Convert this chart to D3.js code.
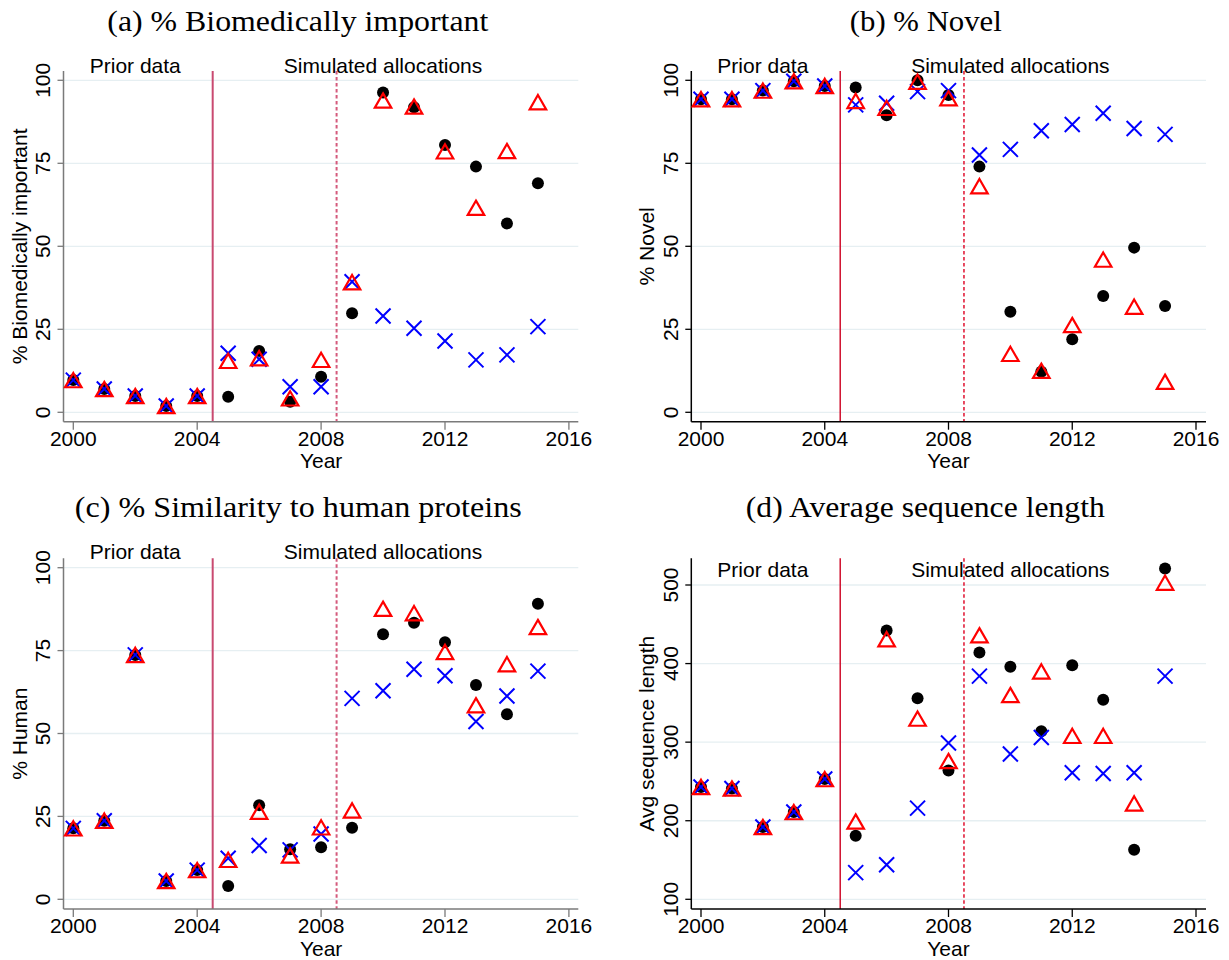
<!DOCTYPE html>
<html>
<head>
<meta charset="utf-8">
<script src="https://cdn.jsdelivr.net/npm/d3@7"></script>
<style>
  body { margin: 0; background: #fff; }
  svg { display: block; }
</style>
</head>
<body>
<svg id="chart" width="1229" height="960"></svg>
<script>
// ---- data ----
const years = [2000, 2001, 2002, 2003, 2004, 2005, 2006, 2007,
               2008, 2009, 2010, 2011, 2012, 2013, 2014, 2015];
const yearTicks = [2000, 2004, 2008, 2012, 2016];
const pctTicks = [0, 25, 50, 75, 100];
const lengthTicks = [100, 200, 300, 400, 500];
const priorEnd = 2004.5;
const simStart = 2008.5;
const periodLabels = ["Prior data", "Simulated allocations"];
const periodLabelYears = [2002, 2010];

// (a) % Biomedically important
const bioCircle   = [9.7, 7.0, 4.9, 1.9, 4.9, 4.7, 18.5, 3.2, 10.7, 29.8, 96.3, 91.9, 80.5, 74.0, 56.9, 69.0];
const bioTriangle = [9.7, 7.0, 4.9, 1.9, 4.9, 15.5, 16.3, 4.2, 15.8, 39.2, 93.9, 92.1, 78.6, 61.6, 78.7, 93.4];
const bioCross    = [9.7, 7.0, 4.9, 1.9, 4.9, 17.8, 16.0, 7.7, 7.7, 39.3, 29.0, 25.3, 21.5, 15.8, 17.3, 25.8];

// (b) % Novel
const novelCircle   = [94.3, 94.3, 96.9, 99.7, 98.3, 97.8, 89.5, 100.0, 95.6, 74.0, 30.3, 12.2, 22.0, 35.0, 49.6, 32.0];
const novelTriangle = [94.3, 94.3, 96.9, 99.7, 98.3, 93.8, 91.7, 99.6, 94.6, 68.1, 17.6, 12.5, 26.3, 46.0, 31.8, 9.2];
const novelCross    = [94.3, 94.3, 96.9, 99.7, 98.3, 92.6, 93.1, 96.6, 96.9, 77.5, 79.2, 84.8, 86.7, 90.1, 85.5, 83.7];

// (c) % Similarity to human proteins
const humanCircle   = [21.4, 23.7, 73.7, 5.5, 8.8, 4.0, 28.4, 15.1, 15.7, 21.6, 79.9, 83.4, 77.5, 64.6, 55.8, 89.1];
const humanTriangle = [21.4, 23.7, 73.7, 5.5, 8.8, 11.9, 26.4, 13.2, 21.7, 26.8, 87.6, 86.3, 74.6, 58.5, 70.9, 82.1];
const humanCross    = [21.4, 23.7, 73.7, 5.5, 8.8, 12.4, 16.2, 14.9, 19.7, 60.6, 62.9, 69.4, 67.4, 53.6, 61.3, 68.8];

// (d) Average sequence length
const lengthCircle   = [243, 241, 192, 211, 253, 181, 442, 356, 264, 414, 396, 314, 398, 354, 163, 521];
const lengthTriangle = [243, 241, 192, 211, 253, 199, 431, 330, 276, 436, 360, 390, 308, 308, 222, 503];
const lengthCross    = [243, 241, 192, 211, 253, 134, 144, 216, 299, 384, 285, 306, 261, 260, 261, 384];

// ---- panel layout ----
const panels = [
  { title: "(a) % Biomedically important", yTitle: "% Biomedically important",
    ticks: pctTicks, domain: [0, 100],
    circle: bioCircle, triangle: bioTriangle, cross: bioCross,
    layout: { x0: 73.3, x1: 568.9, left: 63.5, right: 578.3,
              y0: 412.3, y1: 80.3, top: 71, bottom: 421.7,
              titleX: 297.8, titleY: 31, titleW: 381, labelY: 102.3,
              axisColor: "#7a7a7a", refColor: "#c94a70", refWidth: 2, dashColor: "#d45a7c" } },
  { title: "(b) % Novel", yTitle: "% Novel",
    ticks: pctTicks, domain: [0, 100],
    circle: novelCircle, triangle: novelTriangle, cross: novelCross,
    layout: { x0: 701, x1: 1196, left: 691.3, right: 1206,
              y0: 412.3, y1: 80.3, top: 71, bottom: 421.7,
              titleX: 925.8, titleY: 31, titleW: 152, labelY: 102.3,
              axisColor: "#000", refColor: "#d0102e", refWidth: 1.5, dashColor: "#e0102e" } },
  { title: "(c) % Similarity to human proteins", yTitle: "% Human",
    ticks: pctTicks, domain: [0, 100],
    circle: humanCircle, triangle: humanTriangle, cross: humanCross,
    layout: { x0: 73.3, x1: 568.9, left: 63.5, right: 578.3,
              y0: 899.3, y1: 567.7, top: 558.3, bottom: 909,
              titleX: 298.3, titleY: 517, titleW: 447, labelY: 102.5,
              axisColor: "#7a7a7a", refColor: "#c94a70", refWidth: 2, dashColor: "#d45a7c" } },
  { title: "(d) Average sequence length", yTitle: "Avg sequence length",
    ticks: lengthTicks, domain: [100, 500],
    circle: lengthCircle, triangle: lengthTriangle, cross: lengthCross,
    layout: { x0: 701, x1: 1196, left: 691.3, right: 1206,
              y0: 899.3, y1: 585, top: 558.3, bottom: 909,
              titleX: 925.3, titleY: 517, titleW: 359, labelY: 509.7,
              axisColor: "#000", refColor: "#d0102e", refWidth: 1.5, dashColor: "#e0102e" } }
];

const SANS = "'Liberation Sans', Arial, Helvetica, sans-serif";
const SERIF = "'Liberation Serif', 'Times New Roman', serif";
const BLUE = "#0000ff";
const RED = "#ff0000";

const svg = d3.select("#chart");

// marker shapes, each centred on its point
const triSide = 16.5, triH = 14.3;
const trianglePath = `M0,${-triH / 2}L${triSide / 2},${triH / 2}L${-triSide / 2},${triH / 2}Z`;
const cr = 7.5;
const crossPath = `M${-cr},${-cr}L${cr},${cr}M${-cr},${cr}L${cr},${-cr}`;

panels.forEach(p => {
  const L = p.layout;
  const x = d3.scaleLinear().domain([2000, 2016]).range([L.x0, L.x1]);
  const y = d3.scaleLinear().domain(p.domain).range([L.y0, L.y1]);
  const g = svg.append("g");

  // title
  g.append("text")
    .attr("x", L.titleX).attr("y", L.titleY)
    .attr("text-anchor", "middle")
    .attr("font-family", SERIF).attr("font-size", 29)
    .attr("textLength", L.titleW).attr("lengthAdjust", "spacingAndGlyphs")
    .attr("fill", "#000")
    .text(p.title);

  // horizontal grid lines
  g.append("g").selectAll("line").data(p.ticks).join("line")
    .attr("x1", L.left).attr("x2", L.right)
    .attr("y1", d => y(d)).attr("y2", d => y(d))
    .attr("stroke", "#e6eff2").attr("stroke-width", 1.3);

  // period separators
  g.append("line")
    .attr("x1", x(priorEnd)).attr("x2", x(priorEnd))
    .attr("y1", L.top).attr("y2", L.bottom)
    .attr("stroke", L.refColor).attr("stroke-width", L.refWidth);
  g.append("line")
    .attr("x1", x(simStart)).attr("x2", x(simStart))
    .attr("y1", L.top).attr("y2", L.bottom)
    .attr("stroke", L.dashColor).attr("stroke-width", L.refWidth)
    .attr("stroke-dasharray", "3.5,2.5");

  // period labels
  g.append("g").selectAll("text").data(periodLabels).join("text")
    .attr("x", (d, i) => x(periodLabelYears[i]))
    .attr("y", y(L.labelY))
    .attr("text-anchor", "middle")
    .attr("font-family", SANS).attr("font-size", 21)
    .attr("fill", "#000")
    .text(d => d);

  // y axis
  g.append("line")
    .attr("x1", L.left).attr("x2", L.left)
    .attr("y1", L.top).attr("y2", L.bottom)
    .attr("stroke", L.axisColor).attr("stroke-width", 1.5);
  g.append("g").selectAll("line").data(p.ticks).join("line")
    .attr("x1", L.left - 6).attr("x2", L.left)
    .attr("y1", d => y(d)).attr("y2", d => y(d))
    .attr("stroke", L.axisColor).attr("stroke-width", 1.3);
  g.append("g").selectAll("text").data(p.ticks).join("text")
    .attr("transform", d => `translate(${L.left - 13.5},${y(d)}) rotate(-90)`)
    .attr("text-anchor", "middle")
    .attr("font-family", SANS).attr("font-size", 21)
    .attr("fill", "#000")
    .text(d => d);
  g.append("text")
    .attr("transform", `translate(${L.left - 37},${(L.top + L.bottom) / 2}) rotate(-90)`)
    .attr("text-anchor", "middle")
    .attr("font-family", SANS).attr("font-size", 21)
    .attr("fill", "#000")
    .text(p.yTitle);

  // x axis
  g.append("line")
    .attr("x1", L.left).attr("x2", L.right)
    .attr("y1", L.bottom).attr("y2", L.bottom)
    .attr("stroke", L.axisColor).attr("stroke-width", 1.5);
  g.append("g").selectAll("line").data(yearTicks).join("line")
    .attr("x1", d => x(d)).attr("x2", d => x(d))
    .attr("y1", L.bottom).attr("y2", L.bottom + 8)
    .attr("stroke", L.axisColor).attr("stroke-width", 1.3);
  g.append("g").selectAll("text").data(yearTicks).join("text")
    .attr("x", d => x(d)).attr("y", L.bottom + 24.3)
    .attr("text-anchor", "middle")
    .attr("font-family", SANS).attr("font-size", 21)
    .attr("fill", "#000")
    .text(d => d);
  g.append("text")
    .attr("x", x(2008)).attr("y", L.bottom + 46.5)
    .attr("text-anchor", "middle")
    .attr("font-family", SANS).attr("font-size", 21)
    .attr("fill", "#000")
    .text("Year");

  // markers: circles, then crosses, then triangles
  g.append("g").selectAll("circle").data(years).join("circle")
    .attr("cx", d => x(d)).attr("cy", (d, i) => y(p.circle[i]))
    .attr("r", 6).attr("fill", "#000");
  g.append("g").selectAll("path").data(years).join("path")
    .attr("transform", (d, i) => `translate(${x(d)},${y(p.cross[i])})`)
    .attr("d", crossPath)
    .attr("fill", "none").attr("stroke", BLUE).attr("stroke-width", 2);
  g.append("g").selectAll("path").data(years).join("path")
    .attr("transform", (d, i) => `translate(${x(d)},${y(p.triangle[i])})`)
    .attr("d", trianglePath)
    .attr("fill", "none").attr("stroke", RED).attr("stroke-width", 2.2);
});
</script>
</body>
</html>
